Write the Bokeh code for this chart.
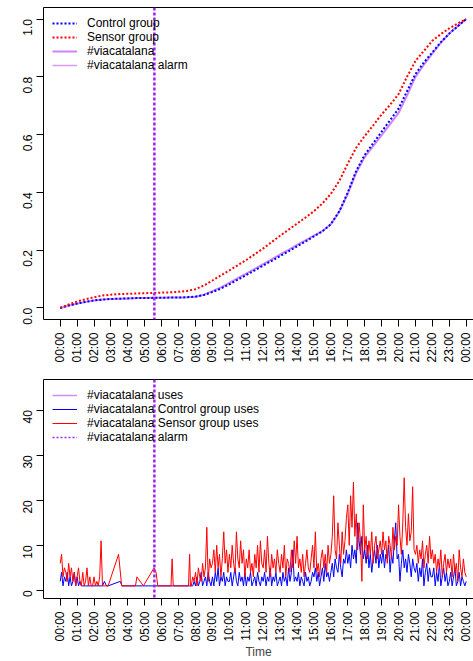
from math import pi

from bokeh.embed import file_html
from bokeh.layouts import column
from bokeh.models import FixedTicker, Legend, LegendItem, LinearAxis, Range1d, Span
from bokeh.plotting import figure
from bokeh.resources import INLINE

FONT = "Liberation Sans"
PURPLE = "#A020F0"

HOUR_TICKS = list(range(25))
HOUR_LABELS = ["%02d:00" % (h % 24) for h in HOUR_TICKS]

ALARM_TIME = "05:34"

# ---- cumulative share of uses, sampled every 30 minutes (00:00 .. 24:00)
CUM_STEP_MIN = 30
CONTROL_CUM = [
    0.000, 0.008, 0.015, 0.021, 0.026, 0.029, 0.031, 0.032, 0.033, 0.034,
    0.034, 0.035, 0.035, 0.036, 0.036, 0.037, 0.039, 0.045, 0.055, 0.067,
    0.082, 0.098, 0.114, 0.130, 0.147, 0.163, 0.180, 0.196, 0.213, 0.230,
    0.248, 0.265, 0.290, 0.335, 0.400, 0.475, 0.530, 0.570, 0.610, 0.650,
    0.690, 0.750, 0.810, 0.850, 0.885, 0.920, 0.950, 0.975, 1.000,
]
SENSOR_CUM = [
    0.000, 0.012, 0.022, 0.030, 0.037, 0.043, 0.046, 0.048, 0.049, 0.050,
    0.051, 0.052, 0.053, 0.054, 0.056, 0.059, 0.065, 0.078, 0.095, 0.113,
    0.130, 0.148, 0.166, 0.186, 0.206, 0.228, 0.250, 0.271, 0.292, 0.313,
    0.335, 0.362, 0.395, 0.440, 0.500, 0.555, 0.595, 0.632, 0.670, 0.703,
    0.740, 0.800, 0.855, 0.890, 0.925, 0.948, 0.968, 0.985, 1.000,
]
VIACATALANA_CUM = [
    0.000, 0.008, 0.015, 0.021, 0.026, 0.029, 0.031, 0.032, 0.033, 0.034,
    0.034, 0.035, 0.035, 0.036, 0.036, 0.037, 0.039, 0.046, 0.058, 0.071,
    0.087, 0.103, 0.119, 0.135, 0.152, 0.168, 0.185, 0.201, 0.218, 0.234,
    0.250, 0.266, 0.290, 0.333, 0.395, 0.468, 0.522, 0.560, 0.598, 0.636,
    0.675, 0.735, 0.800, 0.842, 0.880, 0.918, 0.950, 0.976, 1.000,
]

# ---- uses per 5 minutes
STEP_MIN = 5
# night: regular samples from 00:00, then isolated readings, then regular again from 07:45
SENSOR_EARLY = [6, 8, 3, 5, 4, 2, 6, 3, 5, 2, 4, 1, 3, 5, 2, 1, 4, 1, 2, 5,
                1, 3, 1, 1, 3, 1, 2, 1, 3, 11, 1]
SENSOR_SPARSE = [("02:50", 1), ("03:27", 8), ("03:38", 1), ("04:27", 1), ("04:32", 3),
                 ("04:55", 1), ("05:33", 5), ("05:40", 4), ("05:46", 1), ("06:33", 1),
                 ("06:37", 7), ("06:41", 1), ("07:35", 1), ("07:39", 8), ("07:42", 1)]
DAY_START = "07:45"
SENSOR_DAY = [
    1, 3, 2,
    4, 1, 5, 3, 2, 6, 3, 5, 14, 2, 7, 5,
    6, 9, 4, 10, 5, 8, 3, 7, 13, 6, 9, 4,
    8, 5, 10, 6, 4, 13, 7, 5, 11, 6, 9, 3,
    7, 5, 9, 4, 6, 3, 8, 5, 10, 4, 11, 6,
    5, 9, 4, 12, 6, 3, 8, 5, 7, 4, 9, 6,
    4, 8, 5, 10, 3, 7, 6, 4, 9, 5, 11, 6,
    12, 5, 7, 4, 8, 3, 6, 9, 5, 4, 7, 10,
    5, 13, 4, 6, 3, 7, 9, 5, 8, 4, 10, 6,
    8, 12, 21, 9, 7, 15, 10, 6, 13, 8, 11, 16,
    19, 10, 21, 14, 24, 12, 17, 9, 15, 11, 2, 19,
    9, 12, 7, 11, 8, 13, 6, 10, 12, 7, 9, 11,
    8, 13, 9, 11, 6, 12, 10, 7, 14, 9, 12, 10,
    19, 12, 8, 15, 25, 14, 10, 17, 11, 13, 23, 9,
    8, 10, 6, 9, 7, 11, 5, 8, 10, 6, 12, 7,
    9, 6, 8, 4, 7, 5, 9, 3, 6, 8, 4, 7,
    5, 7, 3, 8, 4, 6, 2, 9, 5, 3, 7, 4,
    3,
]
CONTROL_EARLY = [2, 4, 1, 3, 2, 4, 1, 3, 1, 2, 4, 1, 3, 1, 2, 1, 1, 1, 1]
CONTROL_SPARSE = [("02:30", 1), ("02:37", 2), ("02:44", 1), ("02:50", 1), ("03:33", 2),
                  ("03:39", 1), ("07:40", 1)]
CONTROL_DAY = [
    1, 1, 2,
    1, 3, 1, 2, 4, 1, 2, 3, 1, 4, 2, 1,
    3, 1, 4, 2, 5, 1, 3, 2, 4, 1, 3, 2,
    2, 4, 1, 3, 5, 2, 1, 4, 2, 3, 1, 4,
    1, 3, 2, 4, 1, 2, 3, 1, 4, 2, 1, 3,
    2, 4, 1, 3, 2, 5, 1, 3, 2, 4, 1, 2,
    3, 1, 4, 2, 3, 1, 5, 2, 4, 9, 2, 3,
    2, 4, 1, 3, 2, 1, 4, 2, 3, 1, 2, 4,
    3, 5, 2, 4, 1, 3, 5, 2, 6, 3, 4, 2,
    4, 6, 3, 7, 5, 4, 8, 5, 3, 7, 6, 9,
    6, 8, 5, 10, 7, 9, 6, 15, 11, 8, 12, 7,
    9, 6, 10, 5, 8, 4, 7, 9, 6, 10, 5, 8,
    6, 9, 5, 8, 7, 10, 4, 8, 6, 11, 15, 7,
    8, 2, 6, 9, 5, 7, 4, 8, 6, 3, 7, 5,
    4, 6, 2, 5, 3, 7, 1, 4, 6, 2, 5, 3,
    3, 5, 1, 4, 2, 6, 1, 3, 5, 2, 4, 1,
    2, 4, 1, 3, 5, 1, 2, 4, 1, 3, 2, 1,
    2,
]

NAN = float("nan")


def hours(hhmm):
    h, m = hhmm.split(":")
    return int(h) + int(m) / 60.0


def series(early, sparse, day):
    xs = [i * STEP_MIN / 60.0 for i in range(len(early))]
    ys = list(early)
    for t, v in sparse:
        xs.append(hours(t))
        ys.append(v)
    t0 = hours(DAY_START)
    xs += [t0 + i * STEP_MIN / 60.0 for i in range(len(day))]
    ys += list(day)
    return xs, ys


cum_x = [i * CUM_STEP_MIN / 60.0 for i in range(len(CONTROL_CUM))]
alarm_h = hours(ALARM_TIME)

X_RANGE = (-0.987, 24.43)


def style(p, yticks, ylabels):
    p.outline_line_color = None
    p.xgrid.visible = False
    p.ygrid.visible = False
    p.background_fill_color = "white"
    p.border_fill_color = "white"
    xax, yax = p.below[0], p.left[0]
    for ax in (xax, yax):
        ax.axis_line_color = "black"
        ax.axis_line_width = 1
        ax.major_tick_line_color = "black"
        ax.major_tick_out = 7
        ax.major_tick_in = 0
        ax.minor_tick_line_color = None
        ax.major_label_text_font = FONT
        ax.major_label_text_font_size = "12px"
        ax.major_label_text_color = "black"
        ax.major_label_orientation = pi / 2
    xax.ticker = FixedTicker(ticks=HOUR_TICKS)
    xax.major_label_overrides = {t: lab for t, lab in zip(HOUR_TICKS, HOUR_LABELS)}
    xax.major_label_standoff = 6
    yax.ticker = FixedTicker(ticks=yticks)
    yax.major_label_overrides = {t: lab for t, lab in zip(yticks, ylabels)}
    yax.major_label_standoff = 9
    # top edge of the box
    top = LinearAxis(ticker=FixedTicker(ticks=[]), axis_line_color="black",
                     major_tick_line_color=None, minor_tick_line_color=None,
                     major_label_text_font_size="0px")
    p.add_layout(top, "above")
    return xax


def make_legend(items, margin):
    lg = Legend(items=items, location="top_left")
    lg.label_text_font = FONT
    lg.label_text_font_size = "12px"
    lg.label_text_color = "black"
    lg.label_text_line_height = 1.0
    lg.label_height = 14
    lg.glyph_height = 14
    lg.glyph_width = 25
    lg.label_standoff = 10
    lg.spacing = 0
    lg.margin = margin
    lg.padding = 0
    lg.border_line_color = None
    lg.background_fill_alpha = 0
    return lg


# ---------------- top: cumulative curves
p1 = figure(width=473, height=372, output_backend="svg", toolbar_location=None,
            x_range=Range1d(*X_RANGE), y_range=Range1d(-0.04, 1.04),
            min_border_left=43, min_border_right=0, min_border_top=7, min_border_bottom=53)
TOP_YT = [0, 0.2, 0.4, 0.6, 0.8, 1.0]
style(p1, TOP_YT, ["0.0", "0.2", "0.4", "0.6", "0.8", "1.0"])

r_via = p1.line(cum_x, VIACATALANA_CUM, line_color=PURPLE, line_alpha=0.55, line_width=2)
r_ctl = p1.line(cum_x, CONTROL_CUM, line_color="blue", line_width=2, line_dash="2 2")
r_sen = p1.line(cum_x, SENSOR_CUM, line_color="red", line_width=2, line_dash="2 2")
r_alarm1 = p1.line([NAN], [NAN], line_color=PURPLE, line_alpha=0.45, line_width=1.5)
p1.add_layout(Span(location=alarm_h, dimension="height", line_color=PURPLE,
                   line_width=2.5, line_dash="3 2"))
p1.add_layout(make_legend([
    LegendItem(label="Control group", renderers=[r_ctl]),
    LegendItem(label="Sensor group", renderers=[r_sen]),
    LegendItem(label="#viacatalana", renderers=[r_via]),
    LegendItem(label="#viacatalana alarm", renderers=[r_alarm1]),
], margin=9))

# ---------------- bottom: uses per 5 minutes
p2 = figure(width=473, height=289, output_backend="svg", toolbar_location=None,
            x_range=Range1d(*X_RANGE), y_range=Range1d(-1.8, 46.8),
            min_border_left=43, min_border_right=0, min_border_top=7, min_border_bottom=60)
xax2 = style(p2, [0, 10, 20, 30, 40], ["0", "10", "20", "30", "40"])
xax2.axis_label = "Time"
xax2.axis_label_text_font = FONT
xax2.axis_label_text_font_size = "12px"
xax2.axis_label_text_font_style = "normal"
xax2.axis_label_standoff = 0

cx, cy = series(CONTROL_EARLY, CONTROL_SPARSE, CONTROL_DAY)
sx, sy = series(SENSOR_EARLY, SENSOR_SPARSE, SENSOR_DAY)
r_uses = p2.line([NAN], [NAN], line_color=PURPLE, line_alpha=0.5, line_width=1.5)
r_cu = p2.line(cx, cy, line_color="blue", line_width=1)
r_su = p2.line(sx, sy, line_color="red", line_width=1)
r_alarm2 = p2.line([NAN], [NAN], line_color=PURPLE, line_width=1.5, line_dash="2 2")
p2.add_layout(Span(location=alarm_h, dimension="height", line_color=PURPLE,
                   line_width=2.5, line_dash="3 2"))
p2.add_layout(make_legend([
    LegendItem(label="#viacatalana uses", renderers=[r_uses]),
    LegendItem(label="#viacatalana Control group uses", renderers=[r_cu]),
    LegendItem(label="#viacatalana Sensor group uses", renderers=[r_su]),
    LegendItem(label="#viacatalana alarm", renderers=[r_alarm2]),
], margin=9))

layout = column(p1, p2, spacing=0)
open("out.html", "w").write(file_html(layout, INLINE))
